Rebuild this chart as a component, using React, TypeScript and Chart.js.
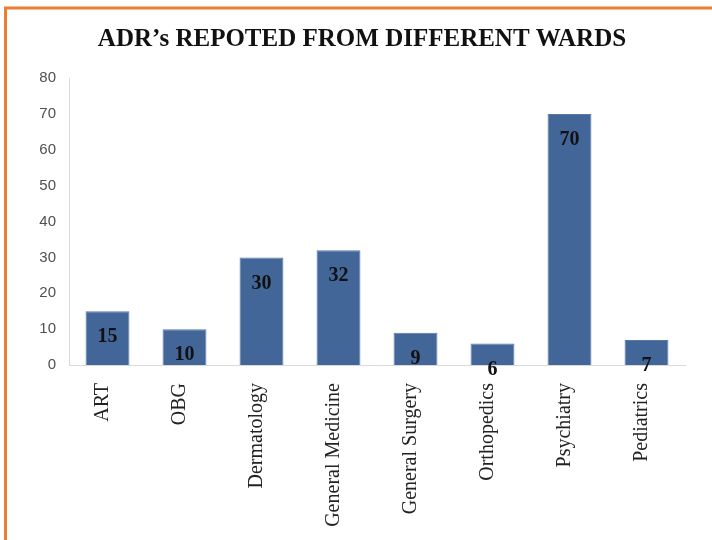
import React, { useEffect, useRef } from "react";
import { Chart, registerables } from "chart.js";

Chart.register(...registerables);

const TITLE = "ADR\u2019s REPOTED FROM DIFFERENT WARDS";
const wards = [
  "ART",
  "OBG",
  "Dermatology",
  "General Medicine",
  "General Surgery",
  "Orthopedics",
  "Psychiatry",
  "Pediatrics",
];
const adrCounts = [15, 10, 30, 32, 9, 6, 70, 7];
const yTicks = [0, 10, 20, 30, 40, 50, 60, 70, 80];

const decorPlugin = {
  id: "decor",
  beforeDraw(chart: any) {
    const ctx = chart.ctx;
    ctx.save();
    ctx.fillStyle = "#ffffff";
    ctx.fillRect(0, 0, chart.width, chart.height);
    ctx.strokeStyle = "#ED7D31";
    ctx.lineWidth = 3;
    ctx.beginPath();
    ctx.moveTo(5.5, chart.height + 5);
    ctx.lineTo(5.5, 8);
    ctx.lineTo(chart.width + 5, 8);
    ctx.stroke();
    ctx.fillStyle = "#111111";
    ctx.font = "bold 25px 'Liberation Serif', 'DejaVu Serif', serif";
    ctx.textAlign = "center";
    ctx.textBaseline = "alphabetic";
    ctx.fillText(TITLE, 362, 46);
    ctx.restore();
  },
  afterDatasetsDraw(chart: any) {
    const ctx = chart.ctx;
    const meta = chart.getDatasetMeta(0);
    ctx.save();
    ctx.fillStyle = "#111111";
    ctx.font = "bold 20px 'Liberation Serif', 'DejaVu Serif', serif";
    ctx.textAlign = "center";
    ctx.textBaseline = "middle";
    meta.data.forEach((bar: any, i: number) => {
      ctx.fillText(String(adrCounts[i]), bar.x, bar.y + 26);
    });
    ctx.restore();
  },
};

export default function App() {
  const ref = useRef<HTMLCanvasElement | null>(null);
  useEffect(() => {
    if (!ref.current) return;
    const chart = new Chart(ref.current, {
      type: "bar",
      data: {
        labels: wards,
        datasets: [
          {
            data: adrCounts,
            backgroundColor: "#436699",
            borderColor: "#5778AB",
            borderWidth: 1,
            barPercentage: 0.57,
            categoryPercentage: 1,
          },
        ],
      },
      options: {
        animation: false,
        responsive: true,
        maintainAspectRatio: false,
        layout: { padding: { left: 20, top: 78, right: 27, bottom: 0 } },
        plugins: {
          legend: { display: false },
          title: { display: false },
          tooltip: { enabled: false },
        },
        scales: {
          x: {
            grid: { display: false, drawTicks: false },
            border: { display: true, color: "#D9D9D9", width: 1 },
            afterFit: (s: any) => {
              s.height = 175;
            },
            ticks: {
              minRotation: 90,
              maxRotation: 90,
              padding: 18,
              labelOffset: -5,
              color: "#222222",
              font: { family: "'Liberation Serif', 'DejaVu Serif', serif", size: 20 },
            },
          },
          y: {
            min: 0,
            max: 80,
            afterFit: (s: any) => {
              s.width = 49;
            },
            afterBuildTicks: (s: any) => {
              s.ticks = yTicks.map((v) => ({ value: v }));
            },
            grid: { display: false, drawTicks: false },
            border: { display: true, color: "#D9D9D9", width: 1 },
            ticks: {
              padding: 13,
              color: "#505050",
              font: { family: "'Liberation Sans', 'DejaVu Sans', sans-serif", size: 15 },
            },
          },
        },
      },
      plugins: [decorPlugin],
    });
    return () => chart.destroy();
  }, []);
  return (
    <div style={{ position: "fixed", left: 0, top: 0, width: 712, height: 540, background: "#fff" }}>
      <canvas ref={ref} />
    </div>
  );
}
